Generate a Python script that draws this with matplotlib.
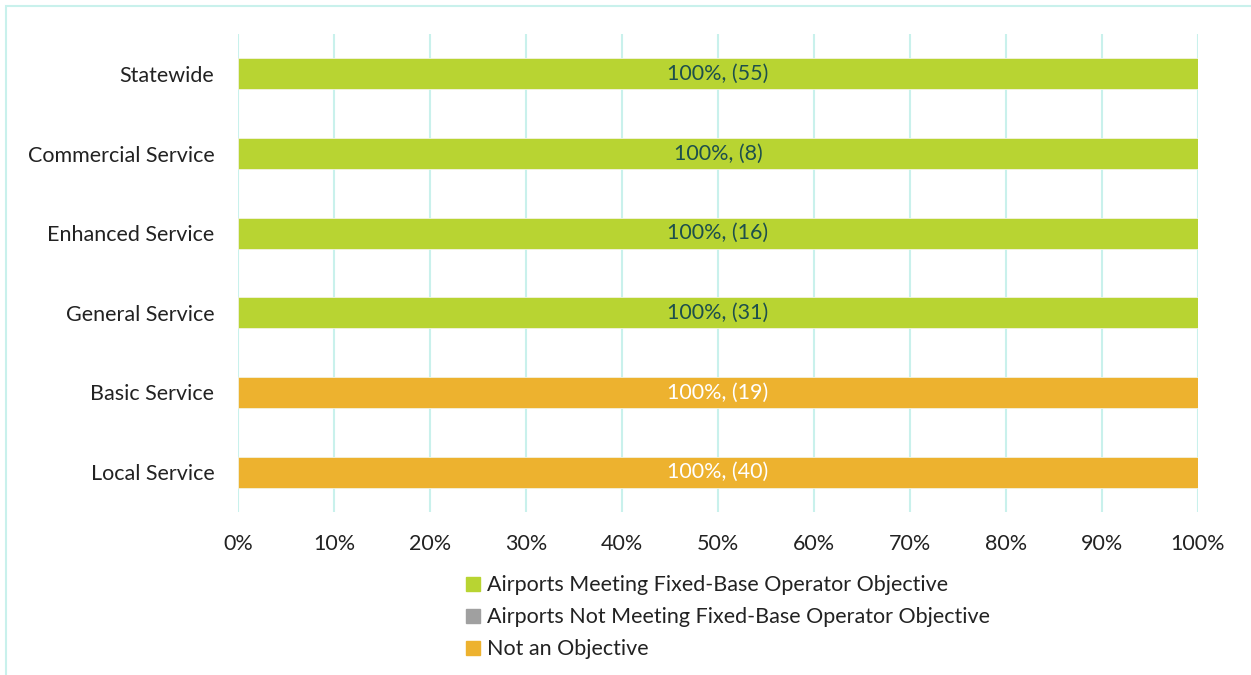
import numpy as np
import matplotlib
matplotlib.use("Agg")
import matplotlib.pyplot as plt
from matplotlib.patches import Rectangle
from matplotlib.lines import Line2D

categories = ["Statewide", "Commercial Service", "Enhanced Service",
              "General Service", "Basic Service", "Local Service"]
meeting = [100, 100, 100, 100, 0, 0]
not_meeting = [0, 0, 0, 0, 0, 0]
not_objective = [0, 0, 0, 0, 100, 100]
counts = [55, 8, 16, 31, 19, 40]
series_names = ["Airports Meeting Fixed-Base Operator Objective",
                "Airports Not Meeting Fixed-Base Operator Objective",
                "Not an Objective"]

GREEN = "#b8d432"
GRAY = "#a0a0a0"
ORANGE = "#edb22f"
GRID = "#c9f1ec"
FS = 15.5

plt.rcParams["font.family"] = ["Lato", "DejaVu Sans"]

fig = plt.figure(figsize=(12.51, 6.75), dpi=100)
ax = fig.add_axes([238 / 1251, 1 - 512 / 675, 960 / 1251, 478 / 675])

y = np.arange(len(categories))
h = 0.39
left = np.zeros(len(categories))
for vals, col in [(meeting, GREEN), (not_meeting, GRAY), (not_objective, ORANGE)]:
    vals = np.array(vals, float)
    ax.barh(y, vals, left=left, height=h, color=col, edgecolor="#f2f2e0",
            linewidth=0.6, zorder=3)
    left += vals

for i, n in enumerate(counts):
    if meeting[i] > 0:
        ax.text(meeting[i] / 2, i, f"{meeting[i]}%, ({n})", ha="center",
                va="center", fontsize=FS, color="#1d4f4c", zorder=4)
    if not_objective[i] > 0:
        ax.text(meeting[i] + not_meeting[i] + not_objective[i] / 2, i,
                f"{not_objective[i]}%, ({n})", ha="center", va="center",
                fontsize=FS, color="white", zorder=4)

ax.set_xlim(0, 100)
ax.set_ylim(len(categories) - 0.5, -0.5)
ax.set_xticks(np.arange(0, 101, 10))
ax.set_xticklabels([f"{v}%" for v in range(0, 101, 10)], fontsize=FS,
                   color="#222222")
ax.set_yticks(y)
ax.set_yticklabels(categories, fontsize=FS, color="#222222")
ax.tick_params(length=0, pad=17, axis="y")
ax.tick_params(length=0, pad=16, axis="x")
ax.xaxis.grid(True, color=GRID, lw=1.5, zorder=0)
for s in ax.spines.values():
    s.set_visible(False)

handles = [Line2D([], [], marker="s", ls="", color=c, markersize=10)
           for c in (GREEN, GRAY, ORANGE)]
fig.legend(handles, series_names, loc="upper left",
           bbox_to_anchor=(441 / 1251, 1 - 556 / 675), frameon=False,
           fontsize=FS, handletextpad=0.05, labelspacing=0.55,
           handlelength=1.2, labelcolor="#222222")

fig.patches.append(Rectangle((6 / 1251, -0.01), 1.2, 1 - 6 / 675 + 0.01,
                             transform=fig.transFigure, fill=False,
                             edgecolor=GRID, lw=1.5))

fig.savefig("out.png", dpi=100)
